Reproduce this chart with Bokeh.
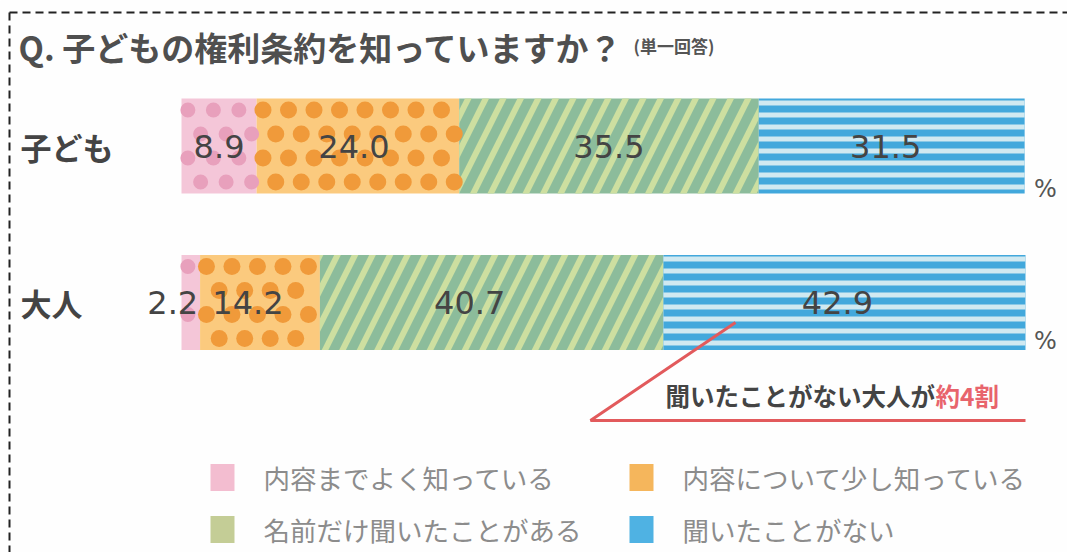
import numpy as np
from bokeh.plotting import figure
from bokeh.models import Range1d, ColumnDataSource
from bokeh.core.properties import value
from bokeh.embed import file_html
from bokeh.resources import INLINE

# ---------------- data ----------------
title = "Q. 子どもの権利条約を知っていますか？"
subtitle = "(単一回答)"
groups = ["子ども", "大人"]
categories = ["内容までよく知っている", "内容について少し知っている",
              "名前だけ聞いたことがある", "聞いたことがない"]
child = [8.9, 24.0, 35.5, 31.5]
adult = [2.2, 14.2, 40.7, 42.9]
unit = "%"
note_main = "聞いたことがない大人が"
note_red = "約4割"

# ---------------- styles ----------------
JP = value("Noto Sans CJK JP")
NUM = value("DejaVu Sans")
bar_fill = ["#f4c6d8", "#fbca7e", "#8cbc9b", "#42a8dc"]
hatch_col = [None, None, "#cddfa0", "#d0e9f1"]
hatch_pat = [None, None, "right_diagonal_line", "horizontal_line"]
hatch_scale = [12, 12, 35, 12]
hatch_weight = [1, 1, 6, 5]
dot_col = ["#e8a0bc", "#f09a3a"]
dot_size = [15, 17]
legend_col = ["#f3bdd0", "#f5b65c", "#c4cd96", "#4fb2e3"]

W, H = 1067, 552
X0, X1 = 181, 1025            # px of 0% and 100%
S = (X1 - X0) / 100.0
ROW_Y = [145.5, 302]          # px of bar centres
BAR_H = 95
DOT_STEP = 25.5               # px between dots

p = figure(width=W, height=H, output_backend="svg", toolbar_location=None,
           x_range=Range1d(-X0 / S, (W - X0) / S),
           y_range=Range1d(H, 0), min_border=0)
p.extra_x_ranges = {"px": Range1d(0, W)}
p.axis.visible = False
p.xgrid.visible = False
p.ygrid.visible = False
p.outline_line_color = None
p.background_fill_color = "#fefefe"
p.border_fill_color = "#fefefe"

# dashed frame
p.line(x=[9, 1070], y=[12, 12], x_range_name="px", line_color="#222",
       line_width=2, line_dash="8 5")
p.line(x=[9, 9], y=[12, 560], x_range_name="px", line_color="#222",
       line_width=2, line_dash="8 5")

# title
p.text(x=[18], y=[46], text=[title], x_range_name="px", text_font=JP,
       text_font_size="33px", text_font_style="bold", text_color="#4f4f4f",
       text_baseline="middle")
p.text(x=[633], y=[45], text=[subtitle], x_range_name="px", text_font=JP,
       text_font_size="17px", text_font_style="bold", text_color="#555",
       text_baseline="middle")

# row labels
p.text(x=[20, 20], y=ROW_Y, text=groups, x_range_name="px", text_font=JP,
       text_font_size="31px", text_font_style="bold", text_color="#444",
       text_baseline="middle")

# stacked bars
data = np.array([child, adult])
right = np.cumsum(data, axis=1)
left = right - data
for j in range(len(categories)):
    src = ColumnDataSource(dict(y=ROW_Y, left=left[:, j], right=right[:, j]))
    kw = {}
    if hatch_pat[j]:
        kw = dict(hatch_pattern=hatch_pat[j], hatch_color=hatch_col[j],
                  hatch_scale=hatch_scale[j], hatch_weight=hatch_weight[j])
    p.hbar(y="y", left="left", right="right", height=BAR_H, source=src,
           fill_color=bar_fill[j], line_color=None, **kw)

# dot texture for the first two segments (derived from the segment extents)
step = DOT_STEP / S
for j in range(2):
    xs, ys = [], []
    r = dot_size[j] / 2 / S
    for i in range(2):
        for k in range(4):
            yy = ROW_Y[i] - 1.5 * 24 + k * 24
            start = left[i, j] + step / 2 + (step / 2 if k % 2 else 0) - step / 4
            for xx in np.arange(start - step, right[i, j], step):
                if xx - r * 0.55 >= left[i, j] and xx + r * 0.55 <= right[i, j]:
                    xs.append(xx)
                    ys.append(yy)
    p.scatter(x=xs, y=ys, marker="circle", size=dot_size[j],
              fill_color=dot_col[j], line_color=None)

# value labels
x_nudge = [[0, -4, 0, -6], [-18, -12, -22, -7]]
for i in range(2):
    centers = (left[i] + right[i]) / 2
    p.text(x=list(centers), y=[ROW_Y[i]] * 4,
           text=[f"{v:.1f}" for v in data[i]],
           x_offset=x_nudge[i], text_font=NUM, text_font_size="32px",
           text_color="#444", text_align="center", text_baseline="middle")

# percent signs
p.text(x=[1045, 1045], y=[188, 340], text=[unit, unit], x_range_name="px",
       text_font=NUM, text_font_size="24px", text_color="#555",
       text_align="center", text_baseline="middle")

# annotation
p.line(x=[735, 590, 1025], y=[322, 420, 420], x_range_name="px",
       line_color="#e25a5c", line_width=3)
p.text(x=[665], y=[395], text=[note_main], x_range_name="px", text_font=JP,
       text_font_size="24.5px", text_font_style="bold", text_color="#444",
       text_baseline="middle")
p.text(x=[935], y=[395], text=[note_red], x_range_name="px", text_font=JP,
       text_font_size="24.5px", text_font_style="bold", text_color="#e8646c",
       text_baseline="middle")

# legend
lx = [222, 641, 222, 641]
ly = [477, 477, 529, 529]
p.rect(x=lx, y=ly, width=24, height=27, x_range_name="px",
       fill_color=legend_col, line_color=None)
p.text(x=[x + 41 for x in lx], y=ly, text=categories, x_range_name="px",
       text_font=JP, text_font_size="26.5px", text_color="#8c8c8c",
       text_baseline="middle")

open("out.html", "w").write(file_html(p, INLINE))
